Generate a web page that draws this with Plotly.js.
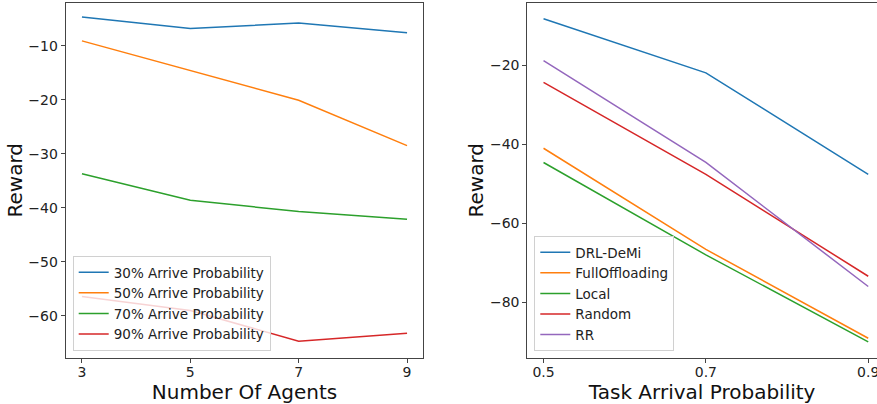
<!DOCTYPE html>
<html><head><meta charset="utf-8">
<script src="https://cdn.plot.ly/plotly-3.0.1.min.js"></script>
<style>html,body{margin:0;padding:0;background:#fff}#c{width:877px;height:404px}</style>
</head><body><div id="c"></div>
<script>
// Left chart: reward vs number of agents
const agents = [3, 5, 7, 9];
const p30 = [-4.7, -6.8, -5.8, -7.6];
const p50 = [-9.1, -14.6, -20.1, -28.5];
const p70 = [-33.7, -38.6, -40.7, -42.1];
const p90 = [-56.4, -59.0, -64.7, -63.2];
const leftNames = ['30% Arrive Probability', '50% Arrive Probability', '70% Arrive Probability', '90% Arrive Probability'];

// Right chart: reward vs task arrival probability
const probs = [0.5, 0.7, 0.9];
const drl = [-8.2, -21.9, -47.6];
const fullOff = [-41.0, -66.6, -89.1];
const local = [-44.6, -68.0, -90.0];
const randomS = [-24.3, -47.6, -73.4];
const rr = [-18.8, -44.6, -76.0];
const rightNames = ['DRL-DeMi', 'FullOffloading', 'Local', 'Random', 'RR'];

const colors = ['#1f77b4', '#ff7f0e', '#2ca02c', '#d62728', '#9467bd'];
const font = 'DejaVu Sans, sans-serif';

const traces = [];
[p30, p50, p70, p90].forEach((ys, i) => traces.push({
  x: agents, y: ys, type: 'scatter', mode: 'lines', name: leftNames[i],
  line: {color: colors[i], width: 1.5}, xaxis: 'x', yaxis: 'y', legend: 'legend'
}));
[drl, fullOff, local, randomS, rr].forEach((ys, i) => traces.push({
  x: probs, y: ys, type: 'scatter', mode: 'lines', name: rightNames[i],
  line: {color: colors[i], width: 1.5}, xaxis: 'x2', yaxis: 'y2', legend: 'legend2'
}));

const axCommon = {
  showgrid: false, zeroline: false, showline: true, linecolor: '#444', linewidth: 1,
  ticks: 'outside', ticklen: 4, tickcolor: '#444', tickwidth: 1,
  tickfont: {family: font, size: 14, color: '#222'}, ticklabeloverflow: 'allow'
};
const yDom = [1 - 358/404, 1 - 2.5/404];
const titleFont = {family: font, size: 20, color: '#111'};

const layout = {
  width: 877, height: 404,
  margin: {l: 0, r: 0, t: 0, b: 0},
  paper_bgcolor: '#fff', plot_bgcolor: '#fff',
  font: {family: font, color: '#222'},
  showlegend: true,
  xaxis: Object.assign({}, axCommon, {
    domain: [65.7/877, 423.3/877], range: [2.7, 9.3], tickvals: agents, mirror: true,
    ticklabelstandoff: -3,
    title: {text: 'Number Of Agents', font: titleFont, standoff: 2},
    anchor: 'y'
  }),
  yaxis: Object.assign({}, axCommon, {
    domain: yDom, range: [-67.8, -2.0], tickvals: [-10, -20, -30, -40, -50, -60], mirror: true,
    title: {text: 'Reward', font: titleFont, standoff: 0},
    anchor: 'x'
  }),
  xaxis2: Object.assign({}, axCommon, {
    domain: [527.3/877, 1], range: [0.48, 0.9108], tickvals: probs, ticktext: ['0.5', '0.7', '0.9'], mirror: true,
    ticklabelstandoff: -3,
    title: {text: 'Task Arrival Probability', font: titleFont, standoff: 2},
    anchor: 'y2'
  }),
  yaxis2: Object.assign({}, axCommon, {
    domain: yDom, range: [-94.1, -4.1], tickvals: [-20, -40, -60, -80], mirror: false,
    title: {text: 'Reward', font: titleFont, standoff: 0},
    anchor: 'x2'
  }),
  legend: {
    x: 72.7/877, y: 1 - 351/404, xanchor: 'left', yanchor: 'bottom', xref: 'paper', yref: 'paper',
    bgcolor: 'rgba(255,255,255,0.8)', bordercolor: '#d0d0d0', borderwidth: 1,
    font: {family: font, size: 13.5, color: '#222'}, itemwidth: 30, tracegroupgap: 0
  },
  legend2: {
    x: 534.3/877, y: 1 - 351/404, xanchor: 'left', yanchor: 'bottom', xref: 'paper', yref: 'paper',
    bgcolor: 'rgba(255,255,255,0.8)', bordercolor: '#d0d0d0', borderwidth: 1,
    font: {family: font, size: 13.5, color: '#222'}, itemwidth: 30, tracegroupgap: 0
  }
};

Plotly.newPlot('c', traces, layout, {staticPlot: true, displayModeBar: false});
</script></body></html>
